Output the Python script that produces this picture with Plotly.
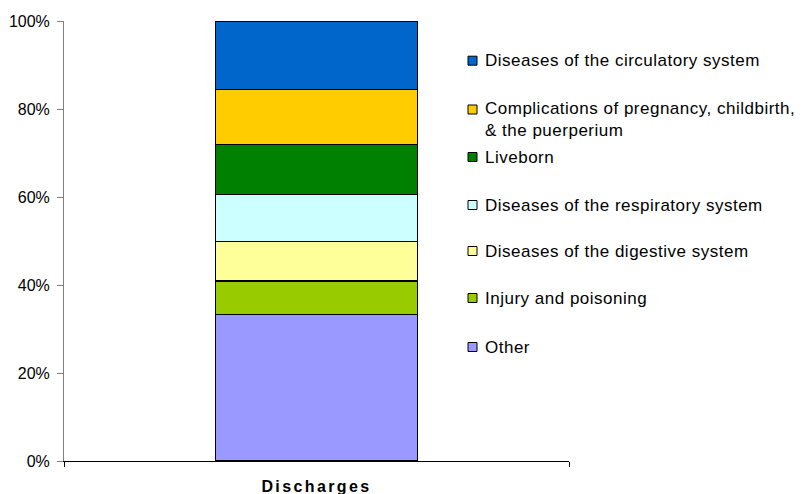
import plotly.graph_objects as go

# ---- data ----
category = ["Discharges"]
series_names = [
    "Other",
    "Injury and poisoning",
    "Diseases of the digestive system",
    "Diseases of the respiratory system",
    "Liveborn",
    "Complications of pregnancy, childbirth,<br>& the puerperium",
    "Diseases of the circulatory system",
]
series_values = [33.3, 7.6, 9.0, 10.6, 11.4, 12.6, 15.5]
series_colors = ["#9999FF", "#99CC00", "#FFFF99", "#CCFFFF", "#008000", "#FFCC00", "#0066CC"]
y_tick_vals = [0, 20, 40, 60, 80, 100]
y_tick_text = ["0%", "20%", "40%", "60%", "80%", "100%"]

FONT = "Liberation Sans, Arial, sans-serif"
W, H = 806, 494
L, R, T, B = 64, 237, 21, 33

fig = go.Figure()
for name, val, col in zip(series_names, series_values, series_colors):
    fig.add_trace(go.Bar(
        x=category, y=[val], name=name,
        marker=dict(color=col, line=dict(color="#000000", width=1.2)),
        width=0.4, showlegend=False,
    ))

# ---- manual legend (Excel-like spacing) ----
plot_w = W - L - R
plot_h = H - T - B


def px_x(p):
    return (p - L) / plot_w


def px_y(p):
    return (H - B - p) / plot_h


legend_centers = [347, 298, 251, 205, 157, 120, 60.7]   # pixel rows of the legend items (layout)
marker_centers = [347, 298, 251, 205, 157, 109.5, 60.7]
for name, col, cy, my in zip(series_names, series_colors, legend_centers, marker_centers):
    fig.add_shape(type="rect", xref="paper", yref="paper",
                  x0=px_x(468), x1=px_x(477), y0=px_y(my + 4.5), y1=px_y(my - 4.5),
                  fillcolor=col, line=dict(color="#000000", width=1))
    fig.add_annotation(xref="paper", yref="paper", x=px_x(483), y=px_y(cy),
                       xanchor="left", yanchor="middle", align="left",
                       text=name, showarrow=False,
                       font=dict(family=FONT, size=17, color="#000000"))

fig.update_layout(
    width=W, height=H,
    margin=dict(l=L, r=R, t=T, b=B, pad=0, autoexpand=False),
    barmode="stack",
    bargap=0.6,
    plot_bgcolor="#FFFFFF", paper_bgcolor="#FFFFFF",
    font=dict(family=FONT, size=16, color="#000000"),
    showlegend=False,
)
fig.update_xaxes(
    type="category", automargin=False,
    tickmode="array", tickvals=category, ticktext=["<b>" + c + "</b>" for c in category],
    tickfont=dict(family=FONT, size=16, color="#000000"),
    showline=True, linecolor="#000000", linewidth=1,
    ticks="outside", tickson="boundaries", ticklen=5, tickcolor="#000000",
    ticklabelstandoff=11,
    showgrid=False, zeroline=False,
    range=[-0.5, 0.5],
)
fig.update_yaxes(
    automargin=False,
    range=[0, 100], tickmode="array", tickvals=y_tick_vals, ticktext=y_tick_text,
    tickfont=dict(family=FONT, size=16, color="#000000"),
    showline=True, linecolor="#808080", linewidth=1,
    ticks="outside", ticklen=6, tickcolor="#808080",
    ticklabelstandoff=4,
    showgrid=False, zeroline=False,
)

post = """
document.body.style.margin = '0';
var gd = document.getElementsByClassName('plotly-graph-div')[0];
function spacing(){
  gd.querySelectorAll('.annotation-text').forEach(function(t){ t.style.letterSpacing='0.5px'; });
  gd.querySelectorAll('.xtick text').forEach(function(t){ t.style.letterSpacing='2.4px'; });
}
spacing();
gd.on('plotly_afterplot', spacing);
"""
fig.write_html("out.html", post_script=post, config={"displayModeBar": False, "staticPlot": True})
